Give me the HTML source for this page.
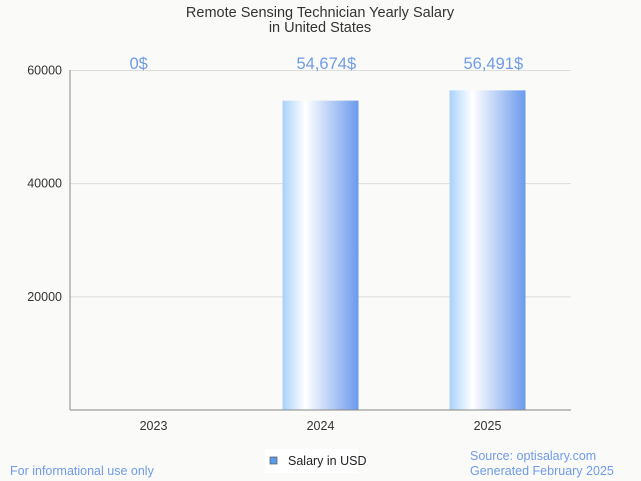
<!DOCTYPE html>
<html><head><meta charset="utf-8"><style>
body{margin:0;background:#fafaf8;}
svg{display:block;font-family:"Liberation Sans",sans-serif;}
</style></head><body>
<svg id="chart" width="641" height="481">
<defs><linearGradient id="g" x1="0" x2="1" y1="0" y2="0">
<stop offset="0" stop-color="#a8d2fb"/><stop offset="0.3" stop-color="#ffffff"/><stop offset="1" stop-color="#6b9aec"/></linearGradient></defs>
<rect width="641" height="481" fill="#fafaf8"/>
<text x="320" y="17" text-anchor="middle" font-size="14.5" fill="#333">Remote Sensing Technician Yearly Salary</text>
<text x="320" y="32" text-anchor="middle" font-size="14.5" fill="#333">in United States</text>
<g id="grid"></g><g id="bars"></g>
<line x1="70" y1="410" x2="571" y2="410" stroke="#888"/>
<line x1="70" y1="70" x2="70" y2="410" stroke="#888"/>
<rect x="265" y="449" width="93" height="24" fill="#fff"/>
<rect x="270" y="457" width="7" height="7" fill="#5b9be8" stroke="#555" stroke-width="0.7"/>
<text x="288" y="465" font-size="12.5" fill="#222">Salary in USD</text>
<text x="10" y="475" font-size="12.5" fill="#6f9be8">For informational use only</text>
<text x="470" y="460" font-size="12.5" fill="#6f9be8">Source: optisalary.com</text>
<text x="470" y="475" font-size="12.5" fill="#6f9be8">Generated February 2025</text>
</svg>
<script>
const categories=["2023","2024","2025"];
const values=[0,54674,56491];
const labels=["0$","54,674$","56,491$"];
const ticks=[20000,40000,60000];
const NS="http://www.w3.org/2000/svg";
const x0=70,x1=571,yb=410,yt=70.5,ymax=60000;
const y=v=>yb-(v/ymax)*(yb-yt);
const bw=(x1-x0)/categories.length;
const cx=i=>x0+bw*(i+0.5);
function mk(t,a,p){const e=document.createElementNS(NS,t);for(const k in a)e.setAttribute(k,a[k]);p.appendChild(e);return e;}
const grid=document.getElementById('grid'),bars=document.getElementById('bars');
ticks.forEach(t=>{
 const l=mk('line',{x1:x0,x2:x1,y1:y(t),y2:y(t),stroke:'#ddd'},grid);
 
 
 const tx=mk('text',{x:x0-8,y:y(t)+4,'text-anchor':'end','font-size':12.5,fill:'#333'},grid);tx.textContent=t;
 
 
});
categories.forEach((c,i)=>{
 const r=mk('rect',{x:cx(i)-38,y:y(values[i]),width:76,height:yb-y(values[i]),fill:'url(#g)'},bars);
 
 
 const v=mk('text',{x:cx(i)-24,y:69,'text-anchor':'start','font-size':16.5,fill:'#6f9be8'},bars);v.textContent=labels[i];
 
 
 const t=mk('text',{x:cx(i),y:430,'text-anchor':'middle','font-size':12.5,fill:'#333'},bars);t.textContent=c;
 
 
});
</script>
</body></html>
